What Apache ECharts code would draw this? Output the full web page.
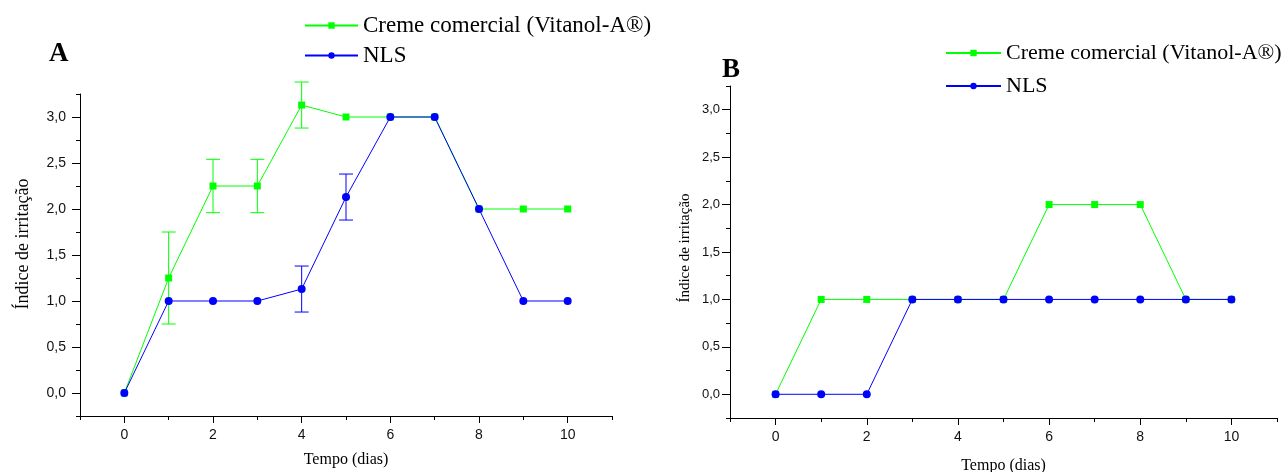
<!DOCTYPE html>
<html><head><meta charset="utf-8">
<script src="https://cdn.jsdelivr.net/npm/echarts@6/dist/echarts.min.js"></script>
<style>html,body{margin:0;padding:0;background:#fff}#c{width:1285px;height:472px}</style>
</head><body><div id="c"></div>
<script>
const days = [0,1,2,3,4,5,6,7,8,9,10];
const cremeA = [0,1.25,2.25,2.25,3.13,3,3,3,2,2,2];
const cremeAErr = [0,0.5,0.29,0.29,0.25,0,0,0,0,0,0];
const nlsA = [0,1,1,1,1.13,2.13,3,3,2,1,1];
const nlsAErr = [0,0,0,0,0.25,0.25,0,0,0,0,0];
const cremeB = [0,1,1,1,1,1,2,2,2,1,1];
const nlsB = [0,0,0,1,1,1,1,1,1,1,1];
const xMajorTicks = [0,2,4,6,8,10];
const xMinorTicks = [-1,1,3,5,7,9,11];
const yMajorTicks = [0,0.5,1,1.5,2,2.5,3];
const yMinorTicks = [-0.25,0.25,0.75,1.25,1.75,2.25,2.75,3.25];
const nameCreme = 'Creme comercial (Vitanol-A®)';
const nameNLS = 'NLS';
const xTitle = 'Tempo (dias)';
const yTitle = 'Índice de irritação';

const GREEN = '#00ff00', BLUE = '#0000ff';
const chart = echarts.init(document.getElementById('c'));

function errData(vals, errs){
  return days.map((d,i)=> errs[i]>0 ? [d, vals[i]-errs[i], vals[i]+errs[i]] : null).filter(Boolean);
}
function errSeries(vals, errs, color, xi, yi, z){
  return {
    type:'custom', name:'err'+xi+color, xAxisIndex:xi, yAxisIndex:yi, z:z, silent:true,
    data: errData(vals, errs),
    renderItem(params, api){
      const x=api.value(0), lo=api.value(1), hi=api.value(2);
      const p1=api.coord([x,lo]), p2=api.coord([x,hi]);
      const w=7, st={stroke:color, lineWidth:1};
      return {type:'group', children:[
        {type:'line', shape:{x1:p1[0],y1:p1[1],x2:p2[0],y2:p2[1]}, style:st},
        {type:'line', shape:{x1:p1[0]-w,y1:p1[1],x2:p1[0]+w,y2:p1[1]}, style:st},
        {type:'line', shape:{x1:p2[0]-w,y1:p2[1],x2:p2[0]+w,y2:p2[1]}, style:st}
      ]};
    }
  };
}
function lineSeries(name, vals, color, symbol, xi, yi, z){
  return {
    type:'line', name:name, xAxisIndex:xi, yAxisIndex:yi, z:z,
    data: days.map((d,i)=>[d, vals[i]]),
    symbol:symbol, symbolSize: symbol==='rect'?7:8, showAllSymbol:true,
    lineStyle:{color:color, width:1}, itemStyle:{color:color},
    emphasis:{disabled:true}, animation:false
  };
}
const fmtY = v => Number(v).toFixed(1).replace('.',',');
function xAxisMain(g, gap){
  return {
    type:'value', gridIndex:g, min:-1, max:11, position:'bottom',
    name:xTitle, nameLocation:'middle', nameGap:gap,
    nameTextStyle:{fontFamily:'Liberation Serif', fontSize:16, color:'#000'},
    axisLine:{show:true, onZero:false, lineStyle:{color:'#000', width:1}},
    axisTick:{show:true, inside:false, length:7, customValues:xMajorTicks, lineStyle:{color:'#000'}},
    axisLabel:{fontFamily:'Liberation Sans', fontSize:14, color:'#111', margin:12,
      customValues:xMajorTicks, formatter:v=>String(v)},
    splitLine:{show:false}
  };
}
function xAxisMinor(g){
  return {
    type:'value', gridIndex:g, min:-1, max:11, position:'bottom', offset:0,
    axisLine:{show:false, onZero:false},
    axisTick:{show:true, inside:false, length:4, customValues:xMinorTicks, lineStyle:{color:'#000'}},
    axisLabel:{show:false}, splitLine:{show:false}
  };
}
function yAxisMain(g, gap, fs, margin, nameFs, shift){
  return {
    type:'value', gridIndex:g, min:-0.25, max:3.25, position:'left',
    name:yTitle, nameLocation:'middle', nameGap:gap,
    nameTextStyle:{fontFamily:'Liberation Serif', fontSize:nameFs, color:'#000', padding:[0,0,0,shift]},
    axisLine:{show:true, onZero:false, lineStyle:{color:'#000', width:1}},
    axisTick:{show:true, inside:false, length:8, customValues:yMajorTicks, lineStyle:{color:'#000'}},
    axisLabel:{fontFamily:'Liberation Sans', fontSize:fs, color:'#111', margin:margin,
      customValues:yMajorTicks, formatter:fmtY},
    splitLine:{show:false}
  };
}
function yAxisMinor(g){
  return {
    type:'value', gridIndex:g, min:-0.25, max:3.25, position:'left', offset:0,
    axisLine:{show:false, onZero:false},
    axisTick:{show:true, inside:false, length:4, customValues:yMinorTicks, lineStyle:{color:'#000'}},
    axisLabel:{show:false}, splitLine:{show:false}
  };
}

chart.setOption({
  animation:false,
  title:[
    {text:'A', left:44, top:36, textStyle:{fontFamily:'Liberation Serif', fontWeight:'bold', fontSize:27, color:'#000'}},
    {text:'B', left:717, top:52, textStyle:{fontFamily:'Liberation Serif', fontWeight:'bold', fontSize:27, color:'#000'}}
  ],
  legend:[
    {left:299, top:8, orient:'vertical', itemWidth:53, itemHeight:8, itemGap:5,
      data:[nameCreme, nameNLS], selectedMode:false,
      textStyle:{fontFamily:'Liberation Serif', fontSize:23, color:'#000', lineHeight:25}},
    {left:940, top:36, orient:'vertical', itemWidth:55, itemHeight:8, itemGap:9,
      data:[nameCreme, nameNLS], selectedMode:false,
      textStyle:{fontFamily:'Liberation Serif', fontSize:22, color:'#000', lineHeight:24}}
  ],
  grid:[
    {left:80, top:94, width:532, height:322, outerBoundsMode:'none', containLabel:false},
    {left:730, top:86, width:547, height:332, outerBoundsMode:'none', containLabel:false}
  ],
  xAxis:[xAxisMain(0, 36), xAxisMinor(0), xAxisMain(1, 40), xAxisMinor(1)],
  yAxis:[yAxisMain(0, 48, 14, 14, 18, 22), yAxisMinor(0), yAxisMain(1, 37, 13, 10, 15, 8), yAxisMinor(1)],
  series:[
    errSeries(cremeA, cremeAErr, GREEN, 0, 0, 2),
    lineSeries(nameCreme, cremeA, GREEN, 'rect', 0, 0, 3),
    errSeries(nlsA, nlsAErr, BLUE, 0, 0, 4),
    lineSeries(nameNLS, nlsA, BLUE, 'circle', 0, 0, 5),
    lineSeries(nameCreme, cremeB, GREEN, 'rect', 2, 2, 3),
    lineSeries(nameNLS, nlsB, BLUE, 'circle', 2, 2, 5)
  ]
});
</script></body></html>
